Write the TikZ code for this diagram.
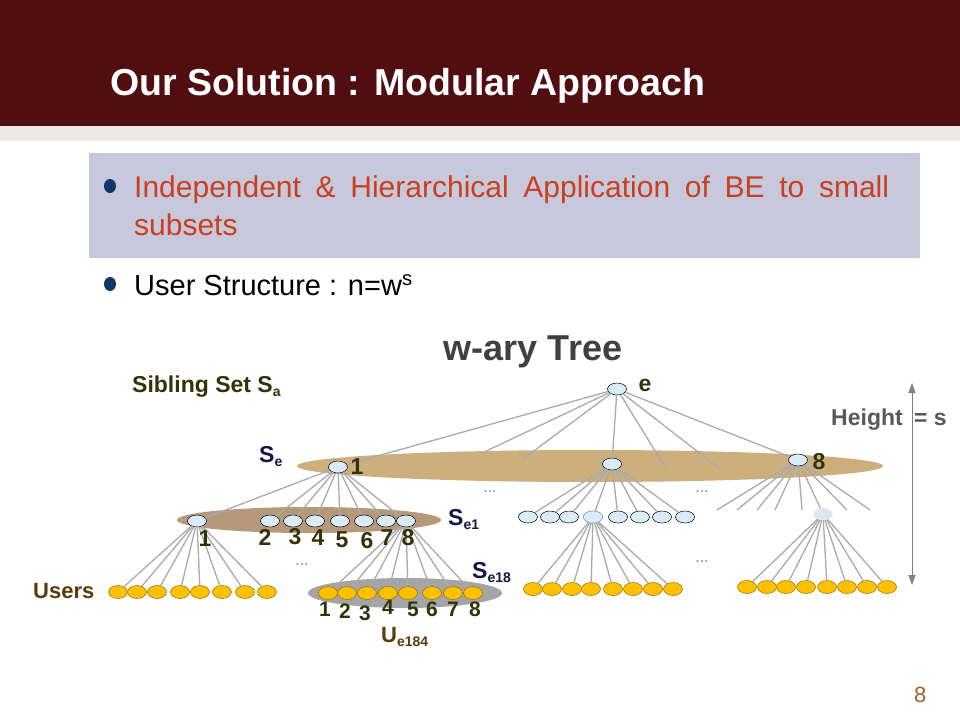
\documentclass[tikz,border=0pt]{standalone}
\usepackage{fontspec}
\setmainfont{Liberation Sans}
\usetikzlibrary{shapes.geometric,arrows.meta}

\definecolor{titlered}{RGB}{81,14,17}
\definecolor{bandgrey}{RGB}{236,233,233}
\definecolor{boxlav}{RGB}{200,200,220}
\definecolor{bulletblue}{RGB}{18,54,104}
\definecolor{pointred}{RGB}{200,64,30}
\definecolor{treegrey}{RGB}{64,64,64}
\definecolor{edgegrey}{RGB}{170,170,170}
\definecolor{setone}{RGB}{205,175,125}
\definecolor{settwo}{RGB}{181,153,122}
\definecolor{setusers}{RGB}{165,165,165}
\definecolor{nodeblue}{RGB}{218,236,250}
\definecolor{useryellow}{RGB}{255,192,0}
\definecolor{userrim}{RGB}{150,110,0}
\definecolor{labelolive}{RGB}{51,51,10}
\definecolor{labelnavy}{RGB}{20,20,70}
\definecolor{labelbrown}{RGB}{92,58,14}
\definecolor{heightgrey}{RGB}{89,89,89}
\definecolor{pagebrown}{RGB}{160,98,42}

\newcommand{\lowidx}[1]{\raisebox{-0.35ex}{\fontsize{14}{14}\selectfont#1}}

\begin{document}
\begin{tikzpicture}[x=1pt, y=-1pt,
    tnode/.style={ellipse, draw=black, line width=0.5pt, fill=nodeblue,
        minimum width=19pt, minimum height=12pt, inner sep=0pt},
    tnodefaint/.style={tnode, draw=none, fill=nodeblue!80!gray!60},
    unode/.style={ellipse, draw=userrim, line width=0.5pt, fill=useryellow,
        minimum width=19pt, minimum height=13pt, inner sep=0pt},
    treeline/.style={draw=edgegrey, line width=1.3pt},
    num/.style={font=\bfseries\fontsize{23}{23}\selectfont, text=labelolive, inner sep=0pt},
    setlabel/.style={anchor=base west, font=\bfseries\fontsize{23}{23}\selectfont,
        text=labelnavy, inner sep=0pt},
    gapdots/.style={font=\fontsize{16}{16}\selectfont, text=gray, inner sep=0pt}]

    \useasboundingbox (0,0) rectangle (960,720);
    \fill[white] (0,0) rectangle (960,720);

    % header
    \fill[titlered] (0,0) rectangle (960,126);
    \fill[bandgrey] (0,126) rectangle (960,141);
    \node[anchor=base west, text=white, inner sep=0pt,
        font=\bfseries\fontsize{37.5}{40}\selectfont] (title) at (110,95)
        {Our Solution : Modular Approach};

    % bullets
    \fill[boxlav] (89,153) rectangle (920,258);
    \fill[bulletblue] (110,186) ellipse (6 and 7);
    \fill[bulletblue] (110,284) ellipse (6 and 7);
    \node[anchor=base west, text width=755pt, align=justify, inner sep=0pt,
        text=pointred, font=\fontsize{30}{38}\selectfont] (point) at (134,197)
        {Independent \& Hierarchical Application of BE to small\linebreak subsets};
    \node[anchor=base west, inner sep=0pt, font=\fontsize{29}{34}\selectfont]
        (structure) at (134,295) {User Structure : n=w\textsuperscript{s}};

    \node[anchor=base, inner sep=0pt, text=treegrey,
        font=\bfseries\fontsize{36}{36}\selectfont] (treename) at (533,360) {w-ary Tree};

    % sibling sets
    \fill[setone] (590,466) ellipse (293 and 16);
    \fill[settwo] (309,520) ellipse (132 and 13);
    \fill[setusers] (405,593) ellipse (97 and 15);

    % level 0 and 1
    \node[tnode] (e) at (617,389) {};
    \node[tnode] (a1) at (338,467) {};
    \node[tnode] (am) at (612,464) {};
    \node[tnode] (a8) at (798,460) {};
    \coordinate (s2) at (480,454);
    \coordinate (s3) at (523,459);
    \coordinate (s6) at (665,467);
    \coordinate (s7) at (720,469);
    \foreach \t in {a1,s2,s3,am,s6,s7,a8} {
        \draw[treeline] (e) -- (\t);
    }

    % level 2, left
    \foreach \x [count=\i] in {197,270,293,315,340,364,386,406} {
        \node[tnode] (b\i) at (\x,521) {};
        \draw[treeline] (a1) -- (b\i);
    }
    % level 2, middle
    \foreach \x [count=\i] in {528,550,569,593,618,640,662,685} {
        \node[tnode] (c\i) at (\x,517) {};
    }
    \node[tnode, draw=edgegrey] (c4) at (593,517) {};
    \foreach \i in {1,...,8} {
        \draw[treeline] (am) -- (c\i);
    }
    % level 2, right
    \node[tnodefaint] (d) at (823,514) {};
    \foreach \x [count=\i] in {717,737,757,775,802,847,870} {
        \coordinate (r\i) at (\x,510);
        \draw[treeline] (a8) -- (r\i);
    }
    \draw[treeline] (a8) -- (d);

    % users
    \foreach \x [count=\i] in {118,137,157,180,200,222,245,267} {
        \node[unode] (u\i) at (\x,592) {};
        \draw[treeline] (b1) -- (u\i);
    }
    \foreach \x [count=\i] in {328,347,367,388,408,432,453,473} {
        \node[unode] (v\i) at (\x,593) {};
        \draw[treeline] (b8) -- (v\i);
    }
    \foreach \x [count=\i] in {533,552,572,591,613,633,653,673} {
        \node[unode] (w\i) at (\x,589) {};
        \draw[treeline] (c4) -- (w\i);
    }
    \foreach \x [count=\i] in {747,767,786,806,827,847,867,887} {
        \node[unode] (z\i) at (\x,587) {};
        \draw[treeline] (d) -- (z\i);
    }

    % numbers
    \node[num] (ne) at (645,385) {e};
    \node[num] (n1) at (357,467) {1};
    \node[num] (n8) at (819,462) {8};
    \foreach \x/\y/\n in {205/539/1, 265/537/2, 295/537/3, 318/538/4,
                          342/540/5, 367/541/6, 387/538/7, 408/538/8} {
        \node[num] (nb\n) at (\x,\y) {\n};
    }
    \foreach \x/\y/\n in {325/609/1, 345/611/2, 365/613/3, 388/607/4,
                          413/609/5, 432/609/6, 453/609/7, 475/609/8} {
        \node[num, font=\bfseries\fontsize{21}{21}\selectfont] (nv\n) at (\x,\y) {\n};
    }

    % labels
    \node[anchor=base west, inner sep=0pt, text=labelolive,
        font=\bfseries\fontsize{23}{23}\selectfont] (sibling) at (132,392)
        {Sibling Set S\lowidx{a}};
    \node[setlabel] (se) at (259,462) {S\lowidx{e}};
    \node[setlabel] (se1) at (448,525) {S\lowidx{e1}};
    \node[setlabel] (se18) at (472,578) {S\lowidx{e18}};
    \node[anchor=base west, inner sep=0pt, text=labelbrown,
        font=\bfseries\fontsize{22}{22}\selectfont] (users) at (33,598) {Users};
    \node[anchor=base west, inner sep=0pt, text=labelbrown,
        font=\bfseries\fontsize{22}{22}\selectfont] (ue) at (381,642) {U\lowidx{e184}};

    \node[gapdots] (g1) at (490,492) {...};
    \node[gapdots] (g2) at (702,492) {...};
    \node[gapdots] (g3) at (302,565) {...};
    \node[gapdots] (g4) at (702,562) {...};

    % height
    \coordinate (htop) at (912,383);
    \coordinate (hbot) at (912,585);
    \draw[gray, line width=1pt, {Triangle[length=10pt,width=7pt]}-{Triangle[length=10pt,width=7pt]}]
        (htop) -- (hbot);
    \node[anchor=base west, inner sep=0pt, text=heightgrey,
        font=\bfseries\fontsize{23}{23}\selectfont] (height) at (831,425) {Height\hspace{5pt} = s};

    \node[anchor=base west, inner sep=0pt, text=pagebrown,
        font=\fontsize{22}{22}\selectfont] (page) at (914,702) {8};
\end{tikzpicture}
\end{document}
